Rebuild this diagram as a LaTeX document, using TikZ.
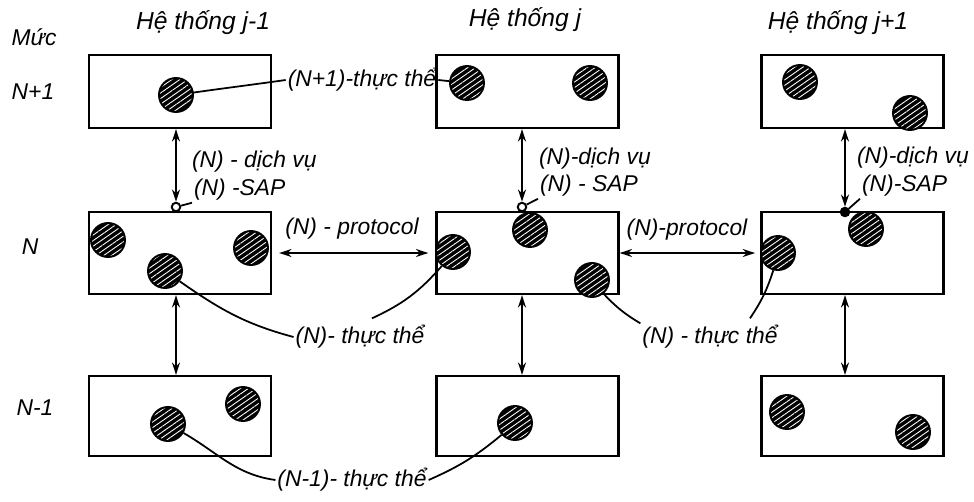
\documentclass[tikz,border=0pt]{standalone}
\usepackage{fontspec}
\setmainfont{Liberation Sans}
\usepackage{tikz}
\usetikzlibrary{positioning, arrows.meta, patterns.meta}
\tikzset{
	layer/.style={
		draw,
		line width=1.3pt,
		minimum width=3.64cm,
		inner sep=0pt
	},
	layerTop/.style={layer, minimum height=1.46cm},
	layerMid/.style={layer, minimum height=1.64cm},
	layerLow/.style={layer, minimum height=1.6cm},
	entity/.style={
		circle,
		draw,
		line width=1.1pt,
		minimum size=0.68cm,
		inner sep=0pt,
		preaction={fill=black},
		pattern={Lines[angle=35,distance=2.6pt,line width=0.5pt]},
		pattern color=white
	},
	sapOpen/.style={
		circle,
		draw,
		line width=1.1pt,
		fill=white,
		minimum size=0.17cm,
		inner sep=0pt
	},
	sapFilled/.style={sapOpen, fill=black},
	caption/.style={
		font=\itshape\fontsize{13}{15}\selectfont,
		inner sep=1pt
	},
	header/.style={
		font=\itshape\fontsize{14}{16}\selectfont,
		inner sep=1pt
	},
	flow/.style={
		line width=1.2pt,
		{Stealth[length=7pt,width=4.5pt]}-{Stealth[length=7pt,width=4.5pt]}
	},
	pointer/.style={
		line width=1pt
	},
}

\begin{document}
\begin{tikzpicture}[x=0.02cm, y=0.02cm]
	\useasboundingbox (0,0) rectangle (974,-501);

	% levels
	\node [caption] (levelText) at (34,-37) {Mức};
	\node [caption] (levelUp) at (33,-92) {N+1};
	\node [caption] (levelN) at (30,-247) {N};
	\node [caption] (levelDown) at (35,-408) {N-1};

	% systems
	\node [header] (sysPrev) at (203,-23) {Hệ thống j-1};
	\node [header] (sysCur) at (525,-20) {Hệ thống j};
	\node [header] (sysNext) at (838,-23) {Hệ thống j+1};

	% layer boxes
	\node [layerTop] (prevTop) at (180,-91.5) {};
	\node [layerTop] (curTop) at (527.5,-91.5) {};
	\node [layerTop] (nextTop) at (852.5,-91.5) {};
	\node [layerMid] (prevMid) at (180,-253) {};
	\node [layerMid] (curMid) at (527.5,-253) {};
	\node [layerMid] (nextMid) at (852.5,-253) {};
	\node [layerLow] (prevLow) at (180,-416) {};
	\node [layerLow] (curLow) at (527.5,-416) {};
	\node [layerLow] (nextLow) at (852.5,-416) {};

	% entities (N+1)
	\node [entity] (prevTopA) at (176,-95) {};
	\node [entity] (curTopA) at (467,-83) {};
	\node [entity] (curTopB) at (590,-83) {};
	\node [entity] (nextTopA) at (800,-82) {};
	\node [entity] (nextTopB) at (910,-113) {};

	% entities (N)
	\node [entity] (prevMidA) at (108,-240) {};
	\node [entity] (prevMidB) at (165,-271) {};
	\node [entity] (prevMidC) at (251,-248) {};
	\node [entity] (curMidA) at (453,-252) {};
	\node [entity] (curMidB) at (530,-230) {};
	\node [entity] (curMidC) at (592,-280) {};
	\node [entity] (nextMidA) at (778,-253) {};
	\node [entity] (nextMidB) at (866,-229) {};

	% entities (N-1)
	\node [entity] (prevLowA) at (168,-424) {};
	\node [entity] (prevLowB) at (243,-404) {};
	\node [entity] (curLowA) at (515,-423) {};
	\node [entity] (nextLowA) at (787,-412) {};
	\node [entity] (nextLowB) at (913,-432) {};

	% service access points
	\node [sapOpen] (prevSap) at (176,-207) {};
	\node [sapOpen] (curSap) at (522,-207) {};
	\node [sapFilled] (nextSap) at (845,-212) {};

	% services
	\draw [flow] (prevTop.south -| prevSap) -- (prevSap.north);
	\draw [flow] (curTop.south -| curSap) -- (curSap.north);
	\draw [flow] (nextTop.south -| nextSap) -- (nextSap.north);
	\node [caption, anchor=west] (prevSrv) at (190,-162) {(N) - dịch vụ};
	\node [caption, anchor=west] (curSrv) at (537,-159) {(N)-dịch vụ};
	\node [caption, anchor=west] (nextSrv) at (855,-158) {(N)-dịch vụ};
	\node [caption, anchor=west] (prevSapLbl) at (192,-190) {(N) -SAP};
	\node [caption, anchor=west] (curSapLbl) at (538,-186) {(N) - SAP};
	\node [caption, anchor=west] (nextSapLbl) at (860,-186) {(N)-SAP};
	\draw [pointer] (prevSap) -- (prevSapLbl.south west);
	\draw [pointer] (curSap) -- (curSapLbl.south west);
	\draw [pointer] (nextSap) -- (nextSapLbl.south west);

	% protocols
	\draw [flow, shorten <=4pt, shorten >=4pt] (prevMid.east) -- (curMid.west);
	\draw [flow, shorten >=3pt] (curMid.east) -- (nextMid.west);
	\node [caption] (prevProto) at (352,-229) {(N) - protocol};
	\node [caption] (nextProto) at (687,-230) {(N)-protocol};

	% lower services
	\draw [flow] (prevMid.south -| prevSap) -- (prevLow.north -| prevSap);
	\draw [flow] (curMid.south -| curSap) -- (curLow.north -| curSap);
	\draw [flow] (nextMid.south -| nextSap) -- (nextLow.north -| nextSap);

	% entity captions
	\node [caption] (topEnt) at (362,-80) {(N+1)-thực thể};
	\draw [pointer] (prevTopA) to [out=8, in=188] (topEnt.west);
	\draw [pointer] (topEnt.east) -- (curTopA);

	\node [caption] (midEntL) at (360,-337) {(N)- thực thể};
	\draw [pointer] (curMidA) to [bend left=12] ([xshift=0.24cm, yshift=0.1cm]midEntL.north);
	\draw [pointer] (prevMidB) to [out=-35, in=165] (midEntL.west);

	\node [caption] (midEntR) at (710,-337) {(N) - thực thể};
	\draw [pointer] (curMidC) to [bend right=8] (midEntR.north west);
	\draw [pointer] (nextMidA) to [bend left=8] ([xshift=0.8cm, yshift=0.1cm]midEntR.north);

	\node [caption] (lowEnt) at (352,-480) {(N-1)- thực thể};
	\draw [pointer] (prevLowA) to [out=-30, in=172] (lowEnt.west);
	\draw [pointer] (curLowA) to [bend left=8] (lowEnt.east);
\end{tikzpicture}
\end{document}
